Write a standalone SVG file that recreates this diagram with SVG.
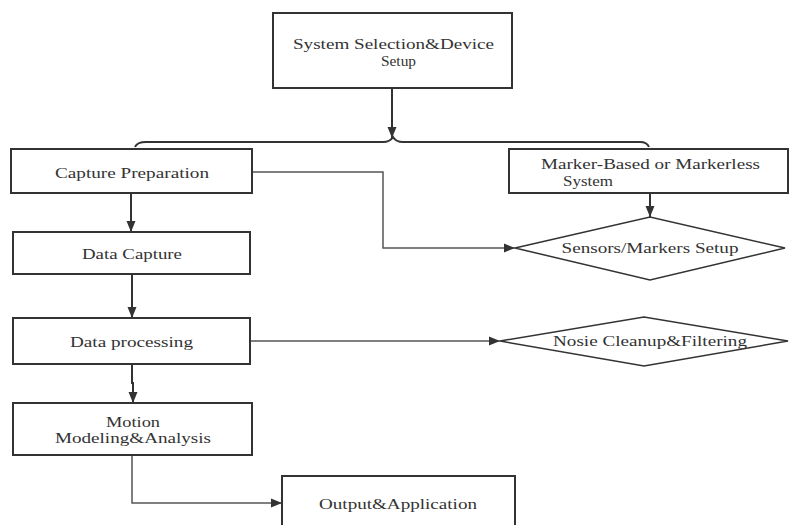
<svg xmlns="http://www.w3.org/2000/svg" width="789" height="525" viewBox="0 0 789 525">
<style>
.box{fill:#fff;stroke:#333;stroke-width:2}
.dia{fill:#fff;stroke:#333;stroke-width:1.5}
.t{font-family:"Liberation Serif","Times New Roman",serif;font-size:15px;fill:#333;text-anchor:middle}
.c{fill:none;stroke:#333;stroke-width:2}
.c2{fill:none;stroke:#555;stroke-width:1.5}
</style>
<defs>
<marker id="ah" markerUnits="userSpaceOnUse" markerWidth="12" markerHeight="10" refX="11" refY="5" orient="auto" viewBox="0 0 12 10">
<path d="M0,0.5 L11,5 L0,9.5 z" fill="#333"/>
</marker>
</defs>
<rect width="789" height="525" fill="#fff"/>
<g id="connectors">
<path class="c" d="M392,88 L392,138" marker-end="url(#ah)"/>
<path class="c" d="M135,147 Q137,142 146,142 L383,142 Q390,142 393,137 Q396,142 403,142 L640,142 Q647,142 649,147"/>
<path class="c2" d="M252,172 L383,172 L383,248 L515,248" marker-end="url(#ah)"/>
<path class="c" d="M650,193 L650,217" marker-end="url(#ah)"/>
<path class="c" d="M131,193 L131,232" marker-end="url(#ah)"/>
<path class="c" d="M132,274 L132,318" marker-end="url(#ah)"/>
<path class="c" d="M132,364 L132,383 L133,383 L133,403" marker-end="url(#ah)"/>
<path class="c2" d="M250,341 L500,341" marker-end="url(#ah)"/>
<path class="c2" d="M132,455 L132,503 L282,503" marker-end="url(#ah)"/>
</g>
<g id="system-selection">
<rect class="box" x="273" y="13" width="239" height="75"/>
<text class="t" x="393.5" y="49" textLength="201" lengthAdjust="spacingAndGlyphs">System Selection&amp;Device</text>
<text class="t" x="398.5" y="66" textLength="35" lengthAdjust="spacingAndGlyphs">Setup</text>
</g>
<g id="capture-preparation">
<rect class="box" x="11" y="149" width="241" height="44"/>
<text class="t" x="132" y="178" textLength="154" lengthAdjust="spacingAndGlyphs">Capture Preparation</text>
</g>
<g id="marker-system">
<rect class="box" x="509" y="149" width="279" height="44"/>
<text class="t" x="650.5" y="169" textLength="219" lengthAdjust="spacingAndGlyphs">Marker-Based or Markerless</text>
<text class="t" x="588" y="186" textLength="50" lengthAdjust="spacingAndGlyphs">System</text>
</g>
<g id="sensors-setup">
<polygon class="dia" points="515,248 650,217 785,248 650,280"/>
<text class="t" x="650" y="253" textLength="177" lengthAdjust="spacingAndGlyphs">Sensors/Markers Setup</text>
</g>
<g id="data-capture">
<rect class="box" x="13" y="232" width="237" height="42"/>
<text class="t" x="132" y="259" textLength="100" lengthAdjust="spacingAndGlyphs">Data Capture</text>
</g>
<g id="data-processing">
<rect class="box" x="13" y="318" width="237" height="46"/>
<text class="t" x="131.5" y="347" textLength="123" lengthAdjust="spacingAndGlyphs">Data processing</text>
</g>
<g id="noise-cleanup">
<polygon class="dia" points="500,341 644,317 788,341 644,366"/>
<text class="t" x="650" y="346" textLength="194" lengthAdjust="spacingAndGlyphs">Nosie Cleanup&amp;Filtering</text>
</g>
<g id="motion-modeling">
<rect class="box" x="13" y="403" width="239" height="52"/>
<text class="t" x="133" y="427" textLength="54" lengthAdjust="spacingAndGlyphs">Motion</text>
<text class="t" x="133" y="443" textLength="156" lengthAdjust="spacingAndGlyphs">Modeling&amp;Analysis</text>
</g>
<g id="output-application">
<rect class="box" x="282" y="476" width="233" height="60"/>
<text class="t" x="398" y="509" textLength="158" lengthAdjust="spacingAndGlyphs">Output&amp;Application</text>
</g>
</svg>
